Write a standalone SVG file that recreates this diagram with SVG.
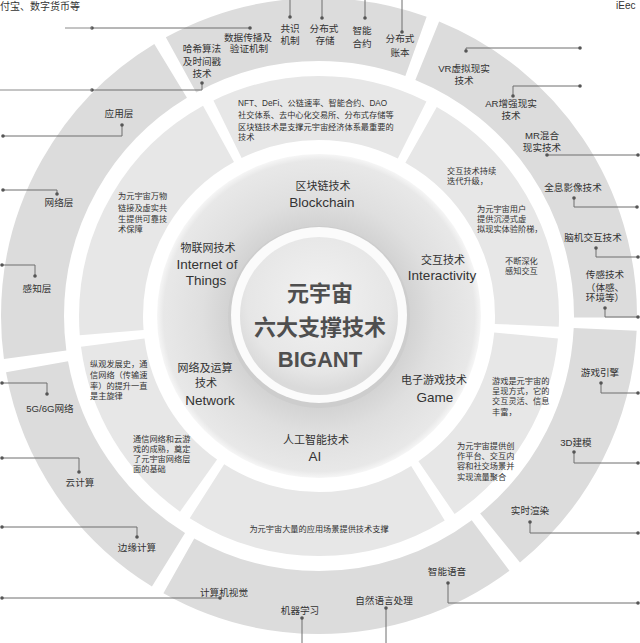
<svg xmlns="http://www.w3.org/2000/svg" width="640" height="643" viewBox="0 0 640 643">
<style>
text{font-family:'Liberation Sans','Noto Sans CJK SC',sans-serif}
.l4{font-size:9.6px;fill:#333;text-anchor:middle}
.d{font-size:8.2px;fill:#333}
.dm{font-size:8.2px;fill:#333;text-anchor:middle}
.t2{font-size:11px;fill:#333;text-anchor:middle}
.en{font-size:13.5px;fill:#333;text-anchor:middle}
.core{font-size:22px;font-weight:bold;fill:#4f4f4f;text-anchor:middle}
.r4{fill:none;stroke:#dcdcdc;stroke-width:63}
.r3{fill:none;stroke:#e7e7e7;stroke-width:64}
.c{fill:none;stroke:#6e6e6e;stroke-width:1;marker-start:url(#dot);marker-end:url(#dot)}
.cs{fill:none;stroke:#6e6e6e;stroke-width:1;marker-start:url(#dot)}
.ct{fill:none;stroke:#8a8a8a;stroke-width:1}
.p{font-size:10px;fill:#333}
</style>
<defs>
<marker id="dot" viewBox="0 0 4 4" refX="2" refY="2" markerWidth="4" markerHeight="4" markerUnits="userSpaceOnUse"><circle cx="2" cy="2" r="1.8" fill="#555"/></marker>
<radialGradient id="g2" gradientUnits="userSpaceOnUse" cx="319" cy="316" r="162">
<stop offset="0.55" stop-color="#d2d2d2"/><stop offset="0.72" stop-color="#dfdfdf"/><stop offset="0.96" stop-color="#e8e8e8"/><stop offset="1" stop-color="#f6f6f6"/>
</radialGradient>
<radialGradient id="gc" gradientUnits="userSpaceOnUse" cx="319" cy="300" r="90">
<stop offset="0" stop-color="#f2f2f2"/><stop offset="0.8" stop-color="#e6e6e6"/><stop offset="1" stop-color="#dadada"/>
</radialGradient>
</defs>
<rect width="640" height="643" fill="#fff"/>

<!-- outer ring segments -->
<g id="ring-outer">
<circle id="seg4-blockchain" class="r4" cx="319" cy="316" r="286.5" pathLength="360" stroke-dasharray="48.6 311.4" stroke-dashoffset="-241.2"/>
<circle id="seg4-interactivity" class="r4" cx="319" cy="316" r="286.5" pathLength="360" stroke-dasharray="68.1 291.9" stroke-dashoffset="-292.2"/>
<circle id="seg4-game" class="r4" cx="319" cy="316" r="286.5" pathLength="360" stroke-dasharray="48.1 311.9" stroke-dashoffset="-2.7"/>
<circle id="seg4-ai" class="r4" cx="319" cy="316" r="286.5" pathLength="360" stroke-dasharray="66.1 293.9" stroke-dashoffset="-53.2"/>
<circle id="seg4-network" class="r4" cx="319" cy="316" r="286.5" pathLength="360" stroke-dasharray="48.1 311.9" stroke-dashoffset="-121.7"/>
<circle id="seg4-iot" class="r4" cx="319" cy="316" r="286.5" pathLength="360" stroke-dasharray="66.6 293.4" stroke-dashoffset="-172.2"/>
</g>

<!-- description ring segments -->
<g id="ring-desc">
<circle id="seg3-blockchain" class="r3" cx="319" cy="316" r="208" pathLength="360" stroke-dasharray="52.7 307.3" stroke-dashoffset="-243.9"/>
<circle id="seg3-interactivity" class="r3" cx="319" cy="316" r="208" pathLength="360" stroke-dasharray="63.2 296.8" stroke-dashoffset="-299.4"/>
<circle id="seg3-game" class="r3" cx="319" cy="316" r="208" pathLength="360" stroke-dasharray="50.2 309.8" stroke-dashoffset="-5.4"/>
<circle id="seg3-ai" class="r3" cx="319" cy="316" r="208" pathLength="360" stroke-dasharray="64.2 295.8" stroke-dashoffset="-58.4"/>
<circle id="seg3-network" class="r3" cx="319" cy="316" r="208" pathLength="360" stroke-dasharray="47.2 312.8" stroke-dashoffset="-125.4"/>
<circle id="seg3-iot" class="r3" cx="319" cy="316" r="208" pathLength="360" stroke-dasharray="65.7 294.3" stroke-dashoffset="-175.4"/>
</g>

<!-- tech ring -->
<g id="ring-tech">
<circle cx="319" cy="316" r="162" fill="url(#g2)"/>
</g>

<!-- core -->
<g id="core">
<circle cx="319" cy="317" r="91" fill="#cdcdcd"/>
<circle cx="319" cy="315" r="88" fill="#fbfbfb"/>
<circle cx="319" cy="316" r="79" fill="url(#gc)"/>
<text class="core" x="320" y="301">元宇宙</text>
<text class="core" x="320" y="335">六大支撑技术</text>
<text class="core" x="320" y="367">BIGANT</text>
</g>

<!-- connectors -->
<g id="connectors">
<path class="c" d="M250,28 H92"/><path class="ct" d="M92,28 H65"/>
<path class="c" d="M202,83 V90 H92"/><path class="ct" d="M92,90 H0"/>
<path class="c" d="M122,125 V136 H3"/>
<path class="c" d="M57,194 V190 H3"/>
<path class="c" d="M35,276 V265 H2"/>
<path class="c" d="M47,394 V383 H2"/>
<path class="c" d="M79,472 V458 H2"/>
<path class="c" d="M137,537 V527 H2"/>
<path class="c" d="M220,598 H2"/>
<path class="cs" d="M302,618 V643"/>
<path class="cs" d="M386,608 V643"/>
<path class="c" d="M448,583 V603 H638"/>
<path class="c" d="M530,522 V533 H638"/>
<path class="c" d="M574,452 V463 H638"/>
<path class="c" d="M601,383 V393 H638"/>
<path class="c" d="M605,308 V317 H638"/>
<path class="c" d="M596,248 V257 H638"/>
<path class="c" d="M574,198 V207 H637"/>
<path class="c" d="M547,155 H638"/>
<path class="c" d="M513,96 V86 H580"/>
<path class="c" d="M466,51 V48 H580"/>
<path class="cs" d="M402,32 V0"/>
<path class="cs" d="M365,18 V0"/>
<path class="cs" d="M322,18 V0"/>
<path class="cs" d="M290,17 V0"/>
</g>

<!-- tech ring labels -->
<g id="tech-blockchain"><text class="t2" x="323" y="190">区块链技术</text><text class="en" x="322" y="207">Blockchain</text></g>
<g id="tech-iot"><text class="t2" x="208" y="252">物联网技术</text><text class="en" x="207" y="269">Internet of</text><text class="en" x="206" y="285">Things</text></g>
<g id="tech-interactivity"><text class="t2" x="443" y="264">交互技术</text><text class="en" x="442" y="280">Interactivity</text></g>
<g id="tech-network"><text class="t2" x="205" y="372">网络及运算</text><text class="t2" x="206" y="387">技术</text><text class="en" x="210" y="405">Network</text></g>
<g id="tech-game"><text class="t2" x="434" y="384">电子游戏技术</text><text class="en" x="435" y="402">Game</text></g>
<g id="tech-ai"><text class="t2" x="316" y="444">人工智能技术</text><text class="en" x="315" y="461">AI</text></g>

<!-- descriptions -->
<g id="desc-blockchain"><text class="d" x="238" y="106">NFT、DeFi、公链速率、智能合约、DAO</text><text class="d" x="238" y="118">社交体系、去中心化交易所、分布式存储等</text><text class="d" x="238" y="129.5">区块链技术是支撑元宇宙经济体系最重要的</text><text class="d" x="238" y="140">技术</text></g>
<g id="desc-interactivity-1"><text class="d" x="447" y="174">交互技术持续</text><text class="d" x="447" y="184">迭代升级，</text></g>
<g id="desc-interactivity-2"><text class="d" x="477" y="212">为元宇宙用户</text><text class="d" x="477" y="222">提供沉浸式虚</text><text class="d" x="477" y="232">拟现实体验阶梯，</text></g>
<g id="desc-interactivity-3"><text class="d" x="505" y="264">不断深化</text><text class="d" x="505" y="274">感知交互</text></g>
<g id="desc-game-1"><text class="d" x="492" y="384">游戏是元宇宙的</text><text class="d" x="492" y="394">呈现方式，它的</text><text class="d" x="492" y="404">交互灵活、信息</text><text class="d" x="492" y="415">丰富，</text></g>
<g id="desc-game-2"><text class="d" x="457" y="449">为元宇宙提供创</text><text class="d" x="457" y="459">作平台、交互内</text><text class="d" x="457" y="469">容和社交场景并</text><text class="d" x="457" y="480">实现流量聚合</text></g>
<g id="desc-ai"><text class="dm" x="319" y="532">为元宇宙大量的应用场景提供技术支撑</text></g>
<g id="desc-network-1"><text class="d" x="90" y="367">纵观发展史，通</text><text class="d" x="90" y="378">信网络（传输速</text><text class="d" x="90" y="389">率）的提升一直</text><text class="d" x="90" y="399">是主旋律</text></g>
<g id="desc-network-2"><text class="d" x="133" y="442">通信网络和云游</text><text class="d" x="133" y="452">戏的成熟，奠定</text><text class="d" x="133" y="462">了元宇宙网络层</text><text class="d" x="133" y="472">面的基础</text></g>
<g id="desc-iot"><text class="d" x="118" y="199">为元宇宙万物</text><text class="d" x="118" y="211">链接及虚实共</text><text class="d" x="118" y="222">生提供可靠技</text><text class="d" x="118" y="232">术保障</text></g>

<!-- outer labels -->
<g id="n-hash"><text class="l4" x="202" y="52">哈希算法</text><text class="l4" x="202" y="65">及时间戳</text><text class="l4" x="202" y="77">技术</text></g>
<g id="n-data"><text class="l4" x="248" y="41">数据传播及</text><text class="l4" x="249" y="52">验证机制</text></g>
<g id="n-consensus"><text class="l4" x="290" y="32">共识</text><text class="l4" x="290" y="44">机制</text></g>
<g id="n-storage"><text class="l4" x="324" y="32">分布式</text><text class="l4" x="325" y="44">存储</text></g>
<g id="n-contract"><text class="l4" x="362" y="34">智能</text><text class="l4" x="362" y="47">合约</text></g>
<g id="n-ledger"><text class="l4" x="400" y="42">分布式</text><text class="l4" x="400" y="56">账本</text></g>
<g id="n-vr"><text class="l4" x="464" y="72">VR虚拟现实</text><text class="l4" x="464" y="84">技术</text></g>
<g id="n-ar"><text class="l4" x="511" y="107">AR增强现实</text><text class="l4" x="511" y="119">技术</text></g>
<g id="n-mr"><text class="l4" x="542" y="139">MR混合</text><text class="l4" x="542" y="151">现实技术</text></g>
<g id="n-holo"><text class="l4" x="573" y="191">全息影像技术</text></g>
<g id="n-bci"><text class="l4" x="593" y="241">脑机交互技术</text></g>
<g id="n-sensor"><text class="l4" x="605" y="278">传感技术</text><text class="l4" x="605" y="291">（体感、</text><text class="l4" x="605" y="301">环境等）</text></g>
<g id="n-engine"><text class="l4" x="600" y="376">游戏引擎</text></g>
<g id="n-3d"><text class="l4" x="576" y="446">3D建模</text></g>
<g id="n-render"><text class="l4" x="530" y="514">实时渲染</text></g>
<g id="n-voice"><text class="l4" x="447" y="575">智能语音</text></g>
<g id="n-nlp"><text class="l4" x="384" y="604">自然语言处理</text></g>
<g id="n-ml"><text class="l4" x="300" y="614">机器学习</text></g>
<g id="n-cv"><text class="l4" x="224" y="596">计算机视觉</text></g>
<g id="n-edge"><text class="l4" x="137" y="551">边缘计算</text></g>
<g id="n-cloud"><text class="l4" x="80" y="486">云计算</text></g>
<g id="n-5g"><text class="l4" x="50" y="412">5G/6G网络</text></g>
<g id="n-sense"><text class="l4" x="37" y="292">感知层</text></g>
<g id="n-netlayer"><text class="l4" x="59" y="206">网络层</text></g>
<g id="n-app"><text class="l4" x="119" y="117">应用层</text></g>

<!-- edge texts -->
<text class="p" x="0" y="10">付宝、数字货币等</text>
<text class="p" x="616" y="9">iEec</text>
</svg>
